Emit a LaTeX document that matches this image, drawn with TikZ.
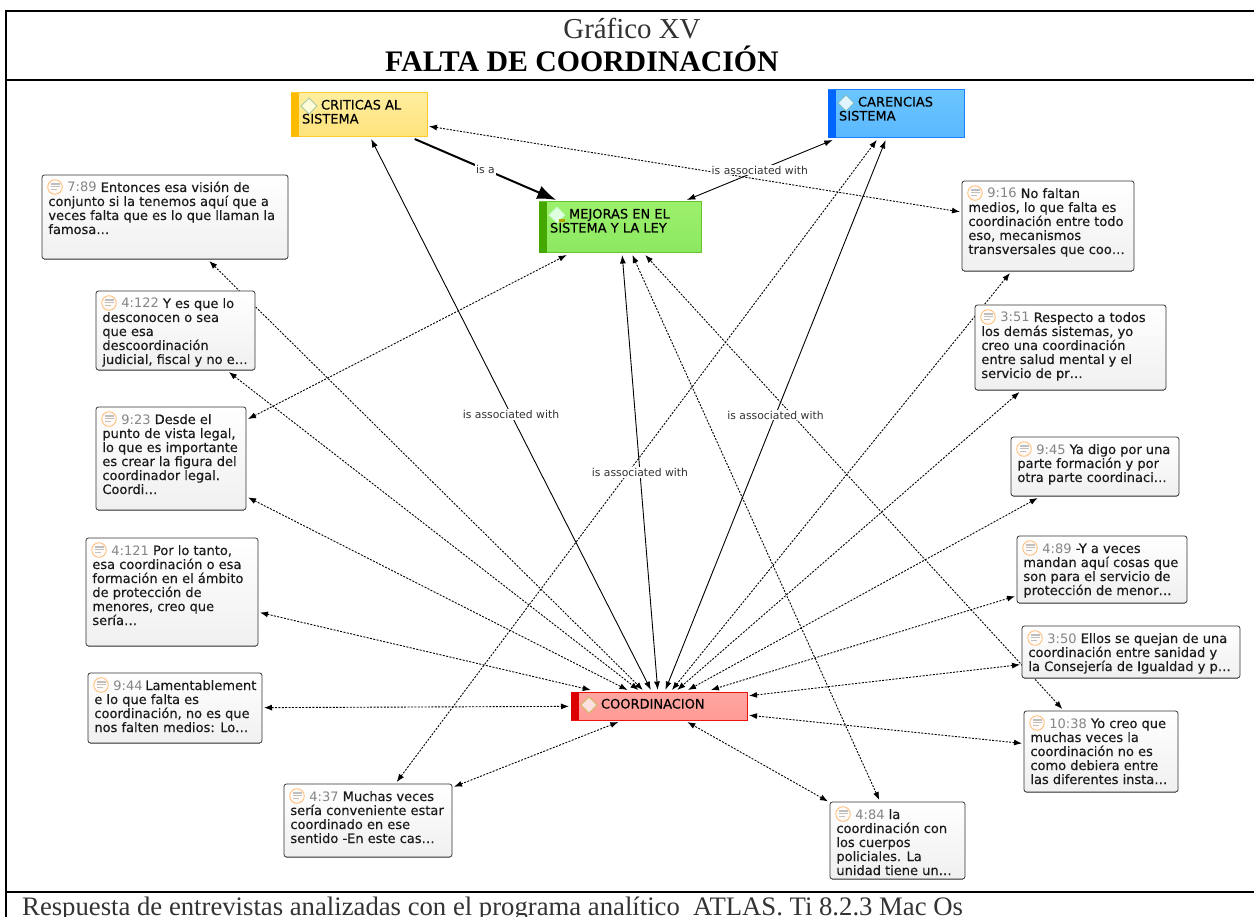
\documentclass[tikz,border=0pt]{standalone}
\usepackage{fontspec}
\setmainfont{Liberation Serif}
\newfontfamily\mapfont[FakeBold=0.3]{DejaVu Sans}
\newfontfamily\labelfont{DejaVu Sans}
\usetikzlibrary{arrows.meta,backgrounds,shapes.geometric}
\definecolor{idgray}{HTML}{858585}
\definecolor{inkmain}{HTML}{1A1A1A}
\definecolor{Y1}{HTML}{FFCB30}\definecolor{Y2}{HTML}{FFEEA0}\definecolor{Y3}{HTML}{FFE27A}\definecolor{Y4}{HTML}{FFBB00}
\definecolor{B1}{HTML}{1A80FF}\definecolor{B2}{HTML}{6CC5FF}\definecolor{B3}{HTML}{5AB8FF}\definecolor{B4}{HTML}{0066FF}
\definecolor{G1}{HTML}{66C430}\definecolor{G2}{HTML}{9CF06C}\definecolor{G3}{HTML}{8CE860}\definecolor{G4}{HTML}{44A800}
\definecolor{R1}{HTML}{EE1111}\definecolor{R2}{HTML}{FFA6A0}\definecolor{R3}{HTML}{FF9A96}\definecolor{R4}{HTML}{DD0000}
\tikzset{
  memobox/.style={draw=black!80,line width=0.8pt,rounded corners=2.5pt,top color=white,bottom color=black!6,
    inner xsep=6.4pt,inner ysep=6pt,outer sep=2pt,text=inkmain,anchor=center},
  conceptbox/.style={line width=1pt,inner xsep=0pt,inner ysep=0pt,outer sep=2pt,text=black,anchor=center},
  yellowc/.style={conceptbox,draw=Y1,top color=Y2,bottom color=Y3},
  bluec/.style={conceptbox,draw=B1,top color=B2,bottom color=B3},
  greenc/.style={conceptbox,draw=G1,top color=G2,bottom color=G3},
  redc/.style={conceptbox,draw=R1,top color=R2,bottom color=R3},
  assoc/.style={line width=0.9pt,dash pattern=on 2pt off 1.4pt,{Latex[length=8pt,width=6pt]}-{Latex[length=8pt,width=6pt]}},
  solidassoc/.style={line width=0.9pt,{Latex[length=8.5pt,width=6pt]}-{Latex[length=8.5pt,width=6pt]}},
  isa/.style={line width=2pt,-{Latex[length=19pt,width=14pt]}},
  edgelabel/.style={fill=white,inner xsep=1pt,inner ysep=1pt,text=black!80,font=\labelfont\fontsize{10.8}{12}\selectfont},
  frameline/.style={line width=1.7pt,black},
  docicon/.style={draw=orange!55!white,fill=orange!4,line width=0.8pt},
}
% name, x1, y1, x2, y2, id, text
\newcommand{\memo}[7]{%
  \node[memobox] (#1) at ({(#2+#4)/2},{(#3+#5)/2})
    {\parbox[c][\dimexpr #5pt-#3pt-12pt\relax][t]{\dimexpr #4pt-#2pt-12.8pt\relax}{%
      \mapfont\fontsize{13}{14}\selectfont\lineskiplimit=-6pt\raggedright\hbadness=10000\hfuzz=30pt
      \rule{0pt}{11pt}\hspace*{19pt}{\color{idgray}\labelfont #6}~#7}};
  \draw[black!55,line width=1.1pt] ({#2+2},{#5+.4}) -- ({#4-2},{#5+.4});
  \path[docicon] ({#2+13},{#3+12}) circle (7.3);
  \fill[black!25] ({#2+8.5},{#3+8}) rectangle ({#2+17.5},{#3+9.6});
  \fill[black!25] ({#2+8.5},{#3+10.8}) rectangle ({#2+17.5},{#3+12.4});
  \fill[black!25] ({#2+8.5},{#3+13.6}) rectangle ({#2+15},{#3+15.2});
}
% style, name, x1, y1, x2, y2, barcolor, diamond style, text
\newcommand{\concept}[9]{%
  \node[#1] (#2) at ({(#3+#5)/2},{(#4+#6)/2})
    {\parbox[c][\dimexpr #6pt-#4pt\relax][t]{\dimexpr #5pt-#3pt\relax}{%
      \mapfont\fontsize{13}{14}\selectfont\lineskiplimit=-6pt\raggedright\leftskip=11pt
      \rule{0pt}{16.5pt}\hspace*{19pt}#9}};
  \fill[#7] (#3,#4) rectangle ({#3+8},#6);
  \draw[#8,line width=0.8pt] ({#3+18},{#4+5}) -- ({#3+26},{#4+13}) -- ({#3+18},{#4+21}) -- ({#3+10},{#4+13}) -- cycle;
}
\begin{document}
\begin{tikzpicture}[x=1pt,y=-1pt]
\useasboundingbox (0,0) rectangle (1254,917);

% concepts
\concept{yellowc}{criticas}{291}{93}{427}{137}{Y4}{draw=green!40!black!35,fill=white!85!yellow}{CRITICAS AL\\SISTEMA}
\concept{bluec}{carencias}{828}{90}{964}{138}{B4}{draw=teal!50,fill=cyan!12}{CARENCIAS\\SISTEMA}
\concept{greenc}{mejoras}{539}{202}{701}{253}{G4}{draw=green!25,fill=green!12}{MEJORAS EN EL\\SISTEMA Y LA LEY}
\fill[olive!70!yellow] (559,219) rectangle (565,222);
\concept{redc}{coord}{571}{692}{747}{720}{R4}{draw=olive!50,fill=red!12}{COORDINACION}

% quotations
\memo{mA}{42}{175}{288}{259}{7:89}{Entonces esa visión de\\conjunto si la tenemos aquí que a\\veces falta que es lo que llaman la\\famosa…}
\memo{mB}{96}{291}{255}{370}{4:122}{Y es que lo\\desconocen o sea\\que esa\\descoordinación\\judicial, fiscal y no e…}
\memo{mC}{96}{407}{246}{510}{9:23}{Desde el\\punto de vista legal,\\lo que es importante\\es crear la figura del\\coordinador legal.\\Coordi…}
\memo{mD}{86}{538}{258}{646}{4:121}{Por lo tanto,\\esa coordinación o esa\\formación en el ámbito\\de protección de\\menores, creo que\\sería…}
\memo{mE}{88}{673}{262}{743}{9:44}{\mbox{Lamentablement}\\e lo que falta es\\coordinación, no es que\\nos falten medios: Lo…}
\memo{mF}{284}{784}{452}{857}{4:37}{Muchas veces\\sería conveniente estar\\coordinado en ese\\sentido -En este cas…}
\memo{mG}{830}{802}{965}{879}{4:84}{la\\coordinación con\\los cuerpos\\policiales. La\\unidad tiene un…}
\memo{mH}{1024}{711}{1178}{792}{10:38}{Yo creo que\\muchas veces la\\coordinación no es\\como debiera entre\\las diferentes insta…}
\memo{mI}{1022}{626}{1240}{678}{3:50}{Ellos se quejan de una\\coordinación entre sanidad y\\la Consejería de Igualdad y p…}
\memo{mJ}{1017}{536}{1187}{603}{4:89}{-Y a veces\\mandan aquí cosas que\\son para el servicio de\\protección de menor…}
\memo{mK}{1011}{437}{1179}{496}{9:45}{Ya digo por una\\parte formación y por\\otra parte coordinaci…}
\memo{mL}{975}{305}{1166}{390}{3:51}{Respecto a todos\\los demás sistemas, yo\\creo una coordinación\\entre salud mental y el\\servicio de pr…}
\memo{mM}{962}{181}{1134}{271}{9:16}{No faltan\\medios, lo que falta es\\coordinación entre todo\\eso, mecanismos\\transversales que coo…}

% connectors
\begin{scope}[on background layer]
  \draw[assoc] (criticas) -- (mM);
  \draw[assoc] (mF) -- (carencias);
  \draw[assoc] (mC) -- (mejoras);
  \draw[assoc] (mG) -- (mejoras);
  \draw[assoc] (mH) -- (mejoras);
  \draw[assoc] (mA) -- (coord);
  \draw[assoc] (mB) -- (coord);
  \draw[assoc] (mC) -- (coord);
  \draw[assoc] (mD) -- (coord);
  \draw[assoc] (mE) -- (coord);
  \draw[assoc] (mF) -- (coord);
  \draw[assoc] (mG) -- (coord);
  \draw[assoc] (mH) -- (coord);
  \draw[assoc] (mI) -- (coord);
  \draw[assoc] (mJ) -- (coord);
  \draw[assoc] (mK) -- (coord);
  \draw[assoc] (mL) -- (coord);
  \draw[assoc] (mM) -- (coord);
  \draw[isa] (criticas) -- node[edgelabel,midway] (l1) {is a} (mejoras);
  \draw[solidassoc] (carencias) -- node[edgelabel,midway] (l5) {is associated with} (mejoras);
  \draw[solidassoc] (coord) -- node[edgelabel,midway] (l2) {is associated with} (criticas);
  \draw[solidassoc] (coord) -- node[edgelabel,midway] (l3) {is associated with} (mejoras);
  \draw[solidassoc] (coord) -- node[edgelabel,midway] (l4) {is associated with} (carencias);
\end{scope}

% frame and captions
\draw[frameline] (1254,11) -- (6,11) -- (6,917);
\draw[frameline] (6,80) -- (1254,80);
\draw[frameline] (6,892) -- (1254,892);
\node[anchor=base,inner sep=0,text=black!80,font=\fontsize{28.9}{30}\selectfont] (title1) at (632,39) {Gráfico XV};
\node[anchor=base,inner sep=0,font=\bfseries\fontsize{29.8}{30}\selectfont] (title2) at (582,72) {FALTA DE COORDINACIÓN};
\node[anchor=base west,inner sep=0,text=black!80,font=\fontsize{26.7}{28}\selectfont] (foot) at (22,915) {Respuesta de entrevistas analizadas con el programa analítico\ \ ATLAS. Ti 8.2.3 Mac Os};
\end{tikzpicture}
\end{document}
